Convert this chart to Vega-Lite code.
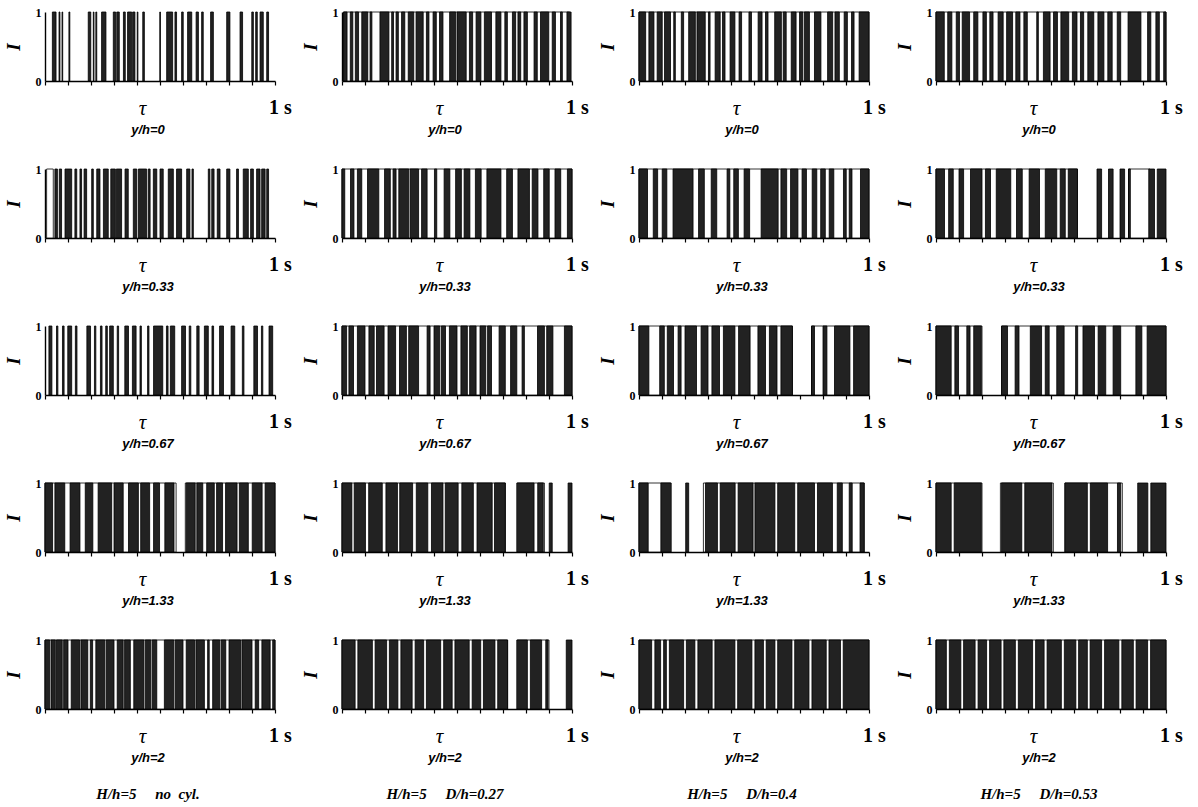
{
"$schema":"https://vega.github.io/schema/vega-lite/v6.json",
"padding":{"left":4,"top":6,"right":0,"bottom":0},
"background":"white",
"datasets":{"s":[
{"p":"11","a":0.032,"b":0.048,"k":"b"},{"p":"11","a":0.061,"b":0.065,"k":"b"},{"p":"11","a":0.074,"b":0.077,"k":"b"},{"p":"11","a":0.104,"b":0.108,"k":"b"},{"p":"11","a":0.188,"b":0.199,"k":"b"},{"p":"11","a":0.210,"b":0.213,"k":"b"},{"p":"11","a":0.221,"b":0.225,"k":"b"},{"p":"11","a":0.246,"b":0.265,"k":"b"},{"p":"11","a":0.297,"b":0.307,"k":"b"},{"p":"11","a":0.312,"b":0.323,"k":"b"},{"p":"11","a":0.341,"b":0.349,"k":"b"},{"p":"11","a":0.359,"b":0.377,"k":"b"},{"p":"11","a":0.381,"b":0.391,"k":"b"},{"p":"11","a":0.401,"b":0.404,"k":"b"},{"p":"11","a":0.425,"b":0.432,"k":"b"},{"p":"11","a":0.499,"b":0.502,"k":"b"},{"p":"11","a":0.529,"b":0.555,"k":"b"},{"p":"11","a":0.565,"b":0.572,"k":"b"},{"p":"11","a":0.594,"b":0.601,"k":"b"},{"p":"11","a":0.620,"b":0.638,"k":"b"},{"p":"11","a":0.657,"b":0.667,"k":"b"},{"p":"11","a":0.681,"b":0.688,"k":"b"},{"p":"11","a":0.720,"b":0.732,"k":"b"},{"p":"11","a":0.790,"b":0.804,"k":"b"},{"p":"11","a":0.848,"b":0.859,"k":"b"},{"p":"11","a":0.899,"b":0.906,"k":"b"},{"p":"11","a":0.916,"b":0.923,"k":"b"},{"p":"11","a":0.935,"b":0.949,"k":"b"},{"p":"11","a":0.964,"b":0.972,"k":"b"},

{"p":"12","a":0.006,"b":0.99,"k":"o"},
{"p":"12","a":0.007,"b":0.022,"k":"b"},{"p":"12","a":0.036,"b":0.047,"k":"b"},{"p":"12","a":0.058,"b":0.072,"k":"b"},{"p":"12","a":0.086,"b":0.112,"k":"b"},{"p":"12","a":0.122,"b":0.130,"k":"b"},{"p":"12","a":0.165,"b":0.204,"k":"b"},{"p":"12","a":0.216,"b":0.224,"k":"b"},{"p":"12","a":0.235,"b":0.245,"k":"b"},{"p":"12","a":0.259,"b":0.273,"k":"b"},{"p":"12","a":0.288,"b":0.312,"k":"b"},{"p":"12","a":0.322,"b":0.353,"k":"b"},{"p":"12","a":0.367,"b":0.378,"k":"b"},{"p":"12","a":0.396,"b":0.410,"k":"b"},{"p":"12","a":0.424,"b":0.439,"k":"b"},{"p":"12","a":0.468,"b":0.494,"k":"b"},{"p":"12","a":0.500,"b":0.540,"k":"b"},{"p":"12","a":0.554,"b":0.568,"k":"b"},{"p":"12","a":0.583,"b":0.604,"k":"b"},{"p":"12","a":0.619,"b":0.650,"k":"b"},{"p":"12","a":0.669,"b":0.691,"k":"b"},{"p":"12","a":0.708,"b":0.719,"k":"b"},{"p":"12","a":0.741,"b":0.755,"k":"b"},{"p":"12","a":0.765,"b":0.777,"k":"b"},{"p":"12","a":0.791,"b":0.806,"k":"b"},{"p":"12","a":0.835,"b":0.849,"k":"b"},{"p":"12","a":0.863,"b":0.899,"k":"b"},{"p":"12","a":0.914,"b":0.928,"k":"b"},{"p":"12","a":0.950,"b":0.958,"k":"b"},{"p":"12","a":0.978,"b":0.996,"k":"b"},

{"p":"13","a":0.0,"b":1.0,"k":"o"},
{"p":"13","a":0.0,"b":0.029,"k":"b"},{"p":"13","a":0.043,"b":0.065,"k":"b"},{"p":"13","a":0.079,"b":0.101,"k":"b"},{"p":"13","a":0.111,"b":0.137,"k":"b"},{"p":"13","a":0.151,"b":0.158,"k":"b"},{"p":"13","a":0.184,"b":0.194,"k":"b"},{"p":"13","a":0.216,"b":0.245,"k":"b"},{"p":"13","a":0.252,"b":0.288,"k":"b"},{"p":"13","a":0.302,"b":0.309,"k":"b"},{"p":"13","a":0.331,"b":0.353,"k":"b"},{"p":"13","a":0.363,"b":0.374,"k":"b"},{"p":"13","a":0.396,"b":0.417,"k":"b"},{"p":"13","a":0.435,"b":0.446,"k":"b"},{"p":"13","a":0.478,"b":0.489,"k":"b"},{"p":"13","a":0.518,"b":0.535,"k":"b"},{"p":"13","a":0.550,"b":0.561,"k":"b"},{"p":"13","a":0.590,"b":0.619,"k":"b"},{"p":"13","a":0.627,"b":0.640,"k":"b"},{"p":"13","a":0.662,"b":0.683,"k":"b"},{"p":"13","a":0.698,"b":0.712,"k":"b"},{"p":"13","a":0.719,"b":0.741,"k":"b"},{"p":"13","a":0.763,"b":0.791,"k":"b"},{"p":"13","a":0.820,"b":0.842,"k":"b"},{"p":"13","a":0.852,"b":0.871,"k":"b"},{"p":"13","a":0.892,"b":0.906,"k":"b"},{"p":"13","a":0.924,"b":0.935,"k":"b"},{"p":"13","a":0.957,"b":1.0,"k":"b"},

{"p":"14","a":0.0,"b":1.0,"k":"o"},
{"p":"14","a":0.0,"b":0.036,"k":"b"},{"p":"14","a":0.051,"b":0.069,"k":"b"},{"p":"14","a":0.088,"b":0.102,"k":"b"},{"p":"14","a":0.114,"b":0.146,"k":"b"},{"p":"14","a":0.164,"b":0.182,"k":"b"},{"p":"14","a":0.204,"b":0.219,"k":"b"},{"p":"14","a":0.234,"b":0.248,"k":"b"},{"p":"14","a":0.270,"b":0.292,"k":"b"},{"p":"14","a":0.307,"b":0.333,"k":"b"},{"p":"14","a":0.347,"b":0.365,"k":"b"},{"p":"14","a":0.382,"b":0.397,"k":"b"},{"p":"14","a":0.438,"b":0.445,"k":"b"},{"p":"14","a":0.467,"b":0.496,"k":"b"},{"p":"14","a":0.511,"b":0.528,"k":"b"},{"p":"14","a":0.543,"b":0.577,"k":"b"},{"p":"14","a":0.593,"b":0.613,"k":"b"},{"p":"14","a":0.628,"b":0.642,"k":"b"},{"p":"14","a":0.660,"b":0.686,"k":"b"},{"p":"14","a":0.704,"b":0.730,"k":"b"},{"p":"14","a":0.747,"b":0.766,"k":"b"},{"p":"14","a":0.788,"b":0.803,"k":"b"},{"p":"14","a":0.835,"b":0.891,"k":"b"},{"p":"14","a":0.920,"b":0.934,"k":"b"},{"p":"14","a":0.956,"b":0.971,"k":"b"},{"p":"14","a":0.990,"b":1.0,"k":"b"},

{"p":"21","a":0.007,"b":0.036,"k":"o"},
{"p":"21","a":0.043,"b":0.054,"k":"b"},{"p":"21","a":0.062,"b":0.072,"k":"b"},{"p":"21","a":0.087,"b":0.116,"k":"b"},{"p":"21","a":0.130,"b":0.138,"k":"b"},{"p":"21","a":0.152,"b":0.159,"k":"b"},{"p":"21","a":0.170,"b":0.181,"k":"b"},{"p":"21","a":0.203,"b":0.210,"k":"b"},{"p":"21","a":0.225,"b":0.239,"k":"b"},{"p":"21","a":0.254,"b":0.275,"k":"b"},{"p":"21","a":0.286,"b":0.306,"k":"b"},{"p":"21","a":0.310,"b":0.333,"k":"b"},{"p":"21","a":0.348,"b":0.362,"k":"b"},{"p":"21","a":0.384,"b":0.399,"k":"b"},{"p":"21","a":0.406,"b":0.442,"k":"b"},{"p":"21","a":0.449,"b":0.457,"k":"b"},{"p":"21","a":0.471,"b":0.486,"k":"b"},{"p":"21","a":0.500,"b":0.514,"k":"b"},{"p":"21","a":0.536,"b":0.558,"k":"b"},{"p":"21","a":0.572,"b":0.594,"k":"b"},{"p":"21","a":0.616,"b":0.630,"k":"b"},{"p":"21","a":0.639,"b":0.645,"k":"b"},{"p":"21","a":0.710,"b":0.717,"k":"b"},{"p":"21","a":0.725,"b":0.735,"k":"b"},{"p":"21","a":0.749,"b":0.761,"k":"b"},{"p":"21","a":0.790,"b":0.804,"k":"b"},{"p":"21","a":0.833,"b":0.841,"k":"b"},{"p":"21","a":0.862,"b":0.884,"k":"b"},{"p":"21","a":0.894,"b":0.906,"k":"b"},{"p":"21","a":0.920,"b":0.935,"k":"b"},{"p":"21","a":0.942,"b":0.957,"k":"b"},{"p":"21","a":0.964,"b":0.972,"k":"b"},

{"p":"22","a":0.0,"b":1.0,"k":"o"},
{"p":"22","a":0.0,"b":0.012,"k":"b"},{"p":"22","a":0.037,"b":0.052,"k":"b"},{"p":"22","a":0.067,"b":0.086,"k":"b"},{"p":"22","a":0.111,"b":0.160,"k":"b"},{"p":"22","a":0.185,"b":0.210,"k":"b"},{"p":"22","a":0.222,"b":0.235,"k":"b"},{"p":"22","a":0.247,"b":0.290,"k":"b"},{"p":"22","a":0.296,"b":0.333,"k":"b"},{"p":"22","a":0.346,"b":0.370,"k":"b"},{"p":"22","a":0.402,"b":0.412,"k":"b"},{"p":"22","a":0.444,"b":0.469,"k":"b"},{"p":"22","a":0.494,"b":0.519,"k":"b"},{"p":"22","a":0.531,"b":0.556,"k":"b"},{"p":"22","a":0.580,"b":0.605,"k":"b"},{"p":"22","a":0.630,"b":0.691,"k":"b"},{"p":"22","a":0.716,"b":0.741,"k":"b"},{"p":"22","a":0.765,"b":0.815,"k":"b"},{"p":"22","a":0.827,"b":0.852,"k":"b"},{"p":"22","a":0.877,"b":0.901,"k":"b"},{"p":"22","a":0.926,"b":0.951,"k":"b"},{"p":"22","a":0.980,"b":1.0,"k":"b"},

{"p":"23","a":0.0,"b":1.0,"k":"o"},
{"p":"23","a":0.0,"b":0.037,"k":"b"},{"p":"23","a":0.062,"b":0.081,"k":"b"},{"p":"23","a":0.101,"b":0.121,"k":"b"},{"p":"23","a":0.148,"b":0.235,"k":"b"},{"p":"23","a":0.259,"b":0.284,"k":"b"},{"p":"23","a":0.314,"b":0.338,"k":"b"},{"p":"23","a":0.383,"b":0.395,"k":"b"},{"p":"23","a":0.412,"b":0.432,"k":"b"},{"p":"23","a":0.457,"b":0.481,"k":"b"},{"p":"23","a":0.531,"b":0.605,"k":"b"},{"p":"23","a":0.617,"b":0.642,"k":"b"},{"p":"23","a":0.659,"b":0.691,"k":"b"},{"p":"23","a":0.709,"b":0.728,"k":"b"},{"p":"23","a":0.753,"b":0.773,"k":"b"},{"p":"23","a":0.790,"b":0.810,"k":"b"},{"p":"23","a":0.827,"b":0.847,"k":"b"},{"p":"23","a":0.889,"b":0.901,"k":"b"},{"p":"23","a":0.914,"b":0.926,"k":"b"},{"p":"23","a":0.963,"b":1.0,"k":"b"},

{"p":"24","a":0.0,"b":0.615,"k":"o"},{"p":"24","a":0.837,"b":0.93,"k":"o"},
{"p":"24","a":0.0,"b":0.037,"k":"b"},{"p":"24","a":0.055,"b":0.075,"k":"b"},{"p":"24","a":0.100,"b":0.120,"k":"b"},{"p":"24","a":0.150,"b":0.200,"k":"b"},{"p":"24","a":0.215,"b":0.237,"k":"b"},{"p":"24","a":0.262,"b":0.325,"k":"b"},{"p":"24","a":0.350,"b":0.375,"k":"b"},{"p":"24","a":0.405,"b":0.450,"k":"b"},{"p":"24","a":0.475,"b":0.525,"k":"b"},{"p":"24","a":0.540,"b":0.562,"k":"b"},{"p":"24","a":0.575,"b":0.615,"k":"b"},{"p":"24","a":0.700,"b":0.720,"k":"b"},{"p":"24","a":0.750,"b":0.770,"k":"b"},{"p":"24","a":0.800,"b":0.820,"k":"b"},{"p":"24","a":0.837,"b":0.845,"k":"b"},{"p":"24","a":0.925,"b":0.950,"k":"b"},{"p":"24","a":0.962,"b":1.0,"k":"b"},

{"p":"31","a":0.017,"b":0.030,"k":"b"},{"p":"31","a":0.050,"b":0.056,"k":"b"},{"p":"31","a":0.076,"b":0.083,"k":"b"},{"p":"31","a":0.099,"b":0.116,"k":"b"},{"p":"31","a":0.132,"b":0.139,"k":"b"},{"p":"31","a":0.182,"b":0.198,"k":"b"},{"p":"31","a":0.215,"b":0.221,"k":"b"},{"p":"31","a":0.241,"b":0.248,"k":"b"},{"p":"31","a":0.264,"b":0.271,"k":"b"},{"p":"31","a":0.281,"b":0.297,"k":"b"},{"p":"31","a":0.314,"b":0.320,"k":"b"},{"p":"31","a":0.347,"b":0.363,"k":"b"},{"p":"31","a":0.380,"b":0.396,"k":"b"},{"p":"31","a":0.413,"b":0.419,"k":"b"},{"p":"31","a":0.446,"b":0.452,"k":"b"},{"p":"31","a":0.472,"b":0.512,"k":"b"},{"p":"31","a":0.528,"b":0.535,"k":"b"},{"p":"31","a":0.545,"b":0.564,"k":"b"},{"p":"31","a":0.594,"b":0.611,"k":"b"},{"p":"31","a":0.627,"b":0.634,"k":"b"},{"p":"31","a":0.660,"b":0.670,"k":"b"},{"p":"31","a":0.693,"b":0.710,"k":"b"},{"p":"31","a":0.726,"b":0.733,"k":"b"},{"p":"31","a":0.759,"b":0.776,"k":"b"},{"p":"31","a":0.809,"b":0.825,"k":"b"},{"p":"31","a":0.858,"b":0.865,"k":"b"},{"p":"31","a":0.908,"b":0.924,"k":"b"},{"p":"31","a":0.941,"b":0.947,"k":"b"},{"p":"31","a":0.974,"b":0.990,"k":"b"},

{"p":"32","a":0.0,"b":1.0,"k":"o"},
{"p":"32","a":0.0,"b":0.02,"k":"b"},{"p":"32","a":0.03,"b":0.05,"k":"b"},{"p":"32","a":0.067,"b":0.1,"k":"b"},{"p":"32","a":0.117,"b":0.14,"k":"b"},{"p":"32","a":0.15,"b":0.183,"k":"b"},{"p":"32","a":0.2,"b":0.233,"k":"b"},{"p":"32","a":0.25,"b":0.28,"k":"b"},{"p":"32","a":0.29,"b":0.333,"k":"b"},{"p":"32","a":0.37,"b":0.383,"k":"b"},{"p":"32","a":0.4,"b":0.425,"k":"b"},{"p":"32","a":0.432,"b":0.45,"k":"b"},{"p":"32","a":0.467,"b":0.5,"k":"b"},{"p":"32","a":0.517,"b":0.545,"k":"b"},{"p":"32","a":0.555,"b":0.583,"k":"b"},{"p":"32","a":0.6,"b":0.625,"k":"b"},{"p":"32","a":0.633,"b":0.65,"k":"b"},{"p":"32","a":0.683,"b":0.71,"k":"b"},{"p":"32","a":0.733,"b":0.76,"k":"b"},{"p":"32","a":0.783,"b":0.793,"k":"b"},{"p":"32","a":0.85,"b":0.88,"k":"b"},{"p":"32","a":0.89,"b":0.917,"k":"b"},{"p":"32","a":0.967,"b":1.0,"k":"b"},

{"p":"33","a":0.0,"b":0.667,"k":"o"},{"p":"33","a":0.75,"b":1.0,"k":"o"},
{"p":"33","a":0.0,"b":0.043,"k":"b"},{"p":"33","a":0.09,"b":0.11,"k":"b"},{"p":"33","a":0.123,"b":0.15,"k":"b"},{"p":"33","a":0.17,"b":0.183,"k":"b"},{"p":"33","a":0.2,"b":0.25,"k":"b"},{"p":"33","a":0.27,"b":0.3,"k":"b"},{"p":"33","a":0.317,"b":0.35,"k":"b"},{"p":"33","a":0.367,"b":0.417,"k":"b"},{"p":"33","a":0.433,"b":0.483,"k":"b"},{"p":"33","a":0.517,"b":0.55,"k":"b"},{"p":"33","a":0.567,"b":0.6,"k":"b"},{"p":"33","a":0.617,"b":0.667,"k":"b"},{"p":"33","a":0.75,"b":0.763,"k":"b"},{"p":"33","a":0.8,"b":0.817,"k":"b"},{"p":"33","a":0.85,"b":0.917,"k":"b"},{"p":"33","a":0.933,"b":1.0,"k":"b"},

{"p":"34","a":0.0,"b":0.2,"k":"o"},{"p":"34","a":0.285,"b":1.0,"k":"o"},
{"p":"34","a":0.0,"b":0.066,"k":"b"},{"p":"34","a":0.082,"b":0.098,"k":"b"},{"p":"34","a":0.134,"b":0.148,"k":"b"},{"p":"34","a":0.164,"b":0.197,"k":"b"},{"p":"34","a":0.285,"b":0.311,"k":"b"},{"p":"34","a":0.344,"b":0.361,"k":"b"},{"p":"34","a":0.41,"b":0.459,"k":"b"},{"p":"34","a":0.475,"b":0.492,"k":"b"},{"p":"34","a":0.525,"b":0.557,"k":"b"},{"p":"34","a":0.607,"b":0.616,"k":"b"},{"p":"34","a":0.639,"b":0.689,"k":"b"},{"p":"34","a":0.705,"b":0.738,"k":"b"},{"p":"34","a":0.77,"b":0.803,"k":"b"},{"p":"34","a":0.869,"b":0.895,"k":"b"},{"p":"34","a":0.918,"b":1.0,"k":"b"},

{"p":"41","a":0.0,"b":0.57,"k":"o"},{"p":"41","a":0.61,"b":1.0,"k":"o"},
{"p":"41","a":0.0,"b":0.033,"k":"b"},{"p":"41","a":0.043,"b":0.086,"k":"b"},{"p":"41","a":0.109,"b":0.152,"k":"b"},{"p":"41","a":0.175,"b":0.208,"k":"b"},{"p":"41","a":0.231,"b":0.29,"k":"b"},{"p":"41","a":0.3,"b":0.34,"k":"b"},{"p":"41","a":0.363,"b":0.406,"k":"b"},{"p":"41","a":0.416,"b":0.455,"k":"b"},{"p":"41","a":0.472,"b":0.498,"k":"b"},{"p":"41","a":0.521,"b":0.561,"k":"b"},{"p":"41","a":0.614,"b":0.653,"k":"b"},{"p":"41","a":0.66,"b":0.686,"k":"b"},{"p":"41","a":0.703,"b":0.736,"k":"b"},{"p":"41","a":0.746,"b":0.772,"k":"b"},{"p":"41","a":0.785,"b":0.835,"k":"b"},{"p":"41","a":0.845,"b":0.884,"k":"b"},{"p":"41","a":0.901,"b":0.944,"k":"b"},{"p":"41","a":0.957,"b":1.0,"k":"b"},

{"p":"42","a":0.0,"b":0.71,"k":"o"},{"p":"42","a":0.76,"b":0.88,"k":"o"},
{"p":"42","a":0.0,"b":0.043,"k":"b"},{"p":"42","a":0.053,"b":0.102,"k":"b"},{"p":"42","a":0.116,"b":0.175,"k":"b"},{"p":"42","a":0.191,"b":0.241,"k":"b"},{"p":"42","a":0.251,"b":0.307,"k":"b"},{"p":"42","a":0.323,"b":0.373,"k":"b"},{"p":"42","a":0.389,"b":0.439,"k":"b"},{"p":"42","a":0.449,"b":0.505,"k":"b"},{"p":"42","a":0.521,"b":0.571,"k":"b"},{"p":"42","a":0.587,"b":0.653,"k":"b"},{"p":"42","a":0.663,"b":0.71,"k":"b"},{"p":"42","a":0.762,"b":0.835,"k":"b"},{"p":"42","a":0.851,"b":0.875,"k":"b"},{"p":"42","a":0.901,"b":0.914,"k":"b"},{"p":"42","a":0.983,"b":1.0,"k":"b"},

{"p":"43","a":0.0,"b":0.14,"k":"o"},{"p":"43","a":0.28,"b":0.98,"k":"o"},
{"p":"43","a":0.0,"b":0.04,"k":"b"},{"p":"43","a":0.095,"b":0.138,"k":"b"},{"p":"43","a":0.203,"b":0.216,"k":"b"},{"p":"43","a":0.289,"b":0.341,"k":"b"},{"p":"43","a":0.353,"b":0.418,"k":"b"},{"p":"43","a":0.431,"b":0.496,"k":"b"},{"p":"43","a":0.504,"b":0.591,"k":"b"},{"p":"43","a":0.603,"b":0.677,"k":"b"},{"p":"43","a":0.69,"b":0.763,"k":"b"},{"p":"43","a":0.776,"b":0.841,"k":"b"},{"p":"43","a":0.862,"b":0.884,"k":"b"},{"p":"43","a":0.914,"b":0.927,"k":"b"},{"p":"43","a":0.961,"b":0.978,"k":"b"},

{"p":"44","a":0.0,"b":0.2,"k":"o"},{"p":"44","a":0.28,"b":0.51,"k":"o"},{"p":"44","a":0.56,"b":0.81,"k":"o"},
{"p":"44","a":0.0,"b":0.066,"k":"b"},{"p":"44","a":0.079,"b":0.197,"k":"b"},{"p":"44","a":0.285,"b":0.373,"k":"b"},{"p":"44","a":0.386,"b":0.504,"k":"b"},{"p":"44","a":0.561,"b":0.658,"k":"b"},{"p":"44","a":0.671,"b":0.746,"k":"b"},{"p":"44","a":0.789,"b":0.803,"k":"b"},{"p":"44","a":0.877,"b":0.921,"k":"b"},{"p":"44","a":0.934,"b":1.0,"k":"b"},

{"p":"51","a":0.0,"b":1.0,"k":"o"},
{"p":"51","a":0.0,"b":0.02,"k":"b"},{"p":"51","a":0.026,"b":0.045,"k":"b"},{"p":"51","a":0.05,"b":0.075,"k":"b"},{"p":"51","a":0.081,"b":0.1,"k":"b"},{"p":"51","a":0.114,"b":0.15,"k":"b"},{"p":"51","a":0.156,"b":0.186,"k":"b"},{"p":"51","a":0.197,"b":0.207,"k":"b"},{"p":"51","a":0.221,"b":0.26,"k":"b"},{"p":"51","a":0.266,"b":0.3,"k":"b"},{"p":"51","a":0.314,"b":0.34,"k":"b"},{"p":"51","a":0.346,"b":0.371,"k":"b"},{"p":"51","a":0.386,"b":0.43,"k":"b"},{"p":"51","a":0.436,"b":0.46,"k":"b"},{"p":"51","a":0.466,"b":0.486,"k":"b"},{"p":"51","a":0.519,"b":0.56,"k":"b"},{"p":"51","a":0.566,"b":0.6,"k":"b"},{"p":"51","a":0.614,"b":0.65,"k":"b"},{"p":"51","a":0.656,"b":0.693,"k":"b"},{"p":"51","a":0.707,"b":0.714,"k":"b"},{"p":"51","a":0.729,"b":0.76,"k":"b"},{"p":"51","a":0.766,"b":0.786,"k":"b"},{"p":"51","a":0.8,"b":0.85,"k":"b"},{"p":"51","a":0.856,"b":0.9,"k":"b"},{"p":"51","a":0.914,"b":0.929,"k":"b"},{"p":"51","a":0.943,"b":0.979,"k":"b"},{"p":"51","a":0.99,"b":1.0,"k":"b"},

{"p":"52","a":0.0,"b":0.72,"k":"o"},{"p":"52","a":0.76,"b":0.9,"k":"o"},
{"p":"52","a":0.0,"b":0.057,"k":"b"},{"p":"52","a":0.069,"b":0.132,"k":"b"},{"p":"52","a":0.144,"b":0.194,"k":"b"},{"p":"52","a":0.206,"b":0.243,"k":"b"},{"p":"52","a":0.256,"b":0.305,"k":"b"},{"p":"52","a":0.318,"b":0.355,"k":"b"},{"p":"52","a":0.367,"b":0.429,"k":"b"},{"p":"52","a":0.442,"b":0.479,"k":"b"},{"p":"52","a":0.491,"b":0.553,"k":"b"},{"p":"52","a":0.566,"b":0.603,"k":"b"},{"p":"52","a":0.615,"b":0.665,"k":"b"},{"p":"52","a":0.677,"b":0.72,"k":"b"},{"p":"52","a":0.762,"b":0.806,"k":"b"},{"p":"52","a":0.819,"b":0.868,"k":"b"},{"p":"52","a":0.886,"b":0.896,"k":"b"},{"p":"52","a":0.975,"b":1.0,"k":"b"},

{"p":"53","a":0.0,"b":1.0,"k":"o"},
{"p":"53","a":0.0,"b":0.055,"k":"b"},{"p":"53","a":0.069,"b":0.094,"k":"b"},{"p":"53","a":0.107,"b":0.119,"k":"b"},{"p":"53","a":0.132,"b":0.194,"k":"b"},{"p":"53","a":0.206,"b":0.243,"k":"b"},{"p":"53","a":0.256,"b":0.318,"k":"b"},{"p":"53","a":0.33,"b":0.417,"k":"b"},{"p":"53","a":0.429,"b":0.491,"k":"b"},{"p":"53","a":0.504,"b":0.541,"k":"b"},{"p":"53","a":0.553,"b":0.591,"k":"b"},{"p":"53","a":0.603,"b":0.665,"k":"b"},{"p":"53","a":0.677,"b":0.739,"k":"b"},{"p":"53","a":0.752,"b":0.814,"k":"b"},{"p":"53","a":0.826,"b":0.876,"k":"b"},{"p":"53","a":0.888,"b":1.0,"k":"b"},

{"p":"54","a":0.0,"b":1.0,"k":"o"},
{"p":"54","a":0.0,"b":0.045,"k":"b"},{"p":"54","a":0.058,"b":0.108,"k":"b"},{"p":"54","a":0.12,"b":0.17,"k":"b"},{"p":"54","a":0.183,"b":0.22,"k":"b"},{"p":"54","a":0.233,"b":0.283,"k":"b"},{"p":"54","a":0.295,"b":0.345,"k":"b"},{"p":"54","a":0.358,"b":0.42,"k":"b"},{"p":"54","a":0.433,"b":0.47,"k":"b"},{"p":"54","a":0.483,"b":0.545,"k":"b"},{"p":"54","a":0.558,"b":0.608,"k":"b"},{"p":"54","a":0.62,"b":0.658,"k":"b"},{"p":"54","a":0.67,"b":0.72,"k":"b"},{"p":"54","a":0.733,"b":0.795,"k":"b"},{"p":"54","a":0.808,"b":0.858,"k":"b"},{"p":"54","a":0.87,"b":0.92,"k":"b"},{"p":"54","a":0.933,"b":1.0,"k":"b"}
]},
"config":{
"view":{"stroke":null},
"axis":{"grid":false,"domainColor":"black","domainWidth":1.4,"tickColor":"black","labelColor":"black","titleColor":"black"},
"axisX":{"tickSize":4,"tickWidth":1.2,"labelFont":"Liberation Serif","labelFontSize":20,"labelFontWeight":"bold","labelPadding":12,"labelOffset":5,"labelFlush":false,"labelOverlap":false,"labelBound":false,"titleFont":"Liberation Serif","titleFontSize":21,"titleFontStyle":"italic","titleFontWeight":"normal","titleX":97,"titleY":33,"titleBaseline":"alphabetic"},
"axisY":{"ticks":false,"labelFont":"Liberation Serif","labelFontSize":12,"labelFontWeight":"bold","labelPadding":4,"labelFlush":false,"titleFont":"Liberation Serif","titleFontSize":19,"titleFontStyle":"italic","titleFontWeight":"bold","titlePadding":12},
"title":{"orient":"bottom","anchor":"middle","font":"Liberation Sans","fontSize":13,"fontStyle":"italic","fontWeight":"bold","color":"black","offset":6,"dx":-12,"subtitleFont":"Liberation Serif","subtitleFontSize":15,"subtitleFontStyle":"italic","subtitleFontWeight":"bold","subtitleColor":"black","subtitlePadding":22}
},
"spacing":26,
"vconcat":[
{"spacing":9,"hconcat":[
{"width":230,"height":69,"data":{"name":"s"},"transform":[{"filter":"datum.p=='11'"}],"mark":{"type":"rect","stroke":"black","strokeWidth":0.8},"encoding":{"x":{"field":"a","type":"quantitative","scale":{"domain":[0,1]},"axis":{"values":[0,0.1,0.2,0.3,0.4,0.5,0.6,0.7,0.8,0.9,1],"labelExpr":"datum.value==1?'1 s':''","title":"τ"}},"x2":{"field":"b"},"y":{"datum":0,"type":"quantitative","scale":{"domain":[0,1]},"axis":{"values":[0,1],"format":"d","title":"I"}},"y2":{"datum":1},"fill":{"field":"k","type":"nominal","scale":{"domain":["o","b"],"range":["white","#222222"]},"legend":null}},"title":"y/h=0"},
{"width":230,"height":69,"data":{"name":"s"},"transform":[{"filter":"datum.p=='12'"}],"mark":{"type":"rect","stroke":"black","strokeWidth":0.8},"encoding":{"x":{"field":"a","type":"quantitative","scale":{"domain":[0,1]},"axis":{"values":[0,0.1,0.2,0.3,0.4,0.5,0.6,0.7,0.8,0.9,1],"labelExpr":"datum.value==1?'1 s':''","title":"τ"}},"x2":{"field":"b"},"y":{"datum":0,"type":"quantitative","scale":{"domain":[0,1]},"axis":{"values":[0,1],"format":"d","title":"I"}},"y2":{"datum":1},"fill":{"field":"k","type":"nominal","scale":{"domain":["o","b"],"range":["white","#222222"]},"legend":null}},"title":"y/h=0"},
{"width":230,"height":69,"data":{"name":"s"},"transform":[{"filter":"datum.p=='13'"}],"mark":{"type":"rect","stroke":"black","strokeWidth":0.8},"encoding":{"x":{"field":"a","type":"quantitative","scale":{"domain":[0,1]},"axis":{"values":[0,0.1,0.2,0.3,0.4,0.5,0.6,0.7,0.8,0.9,1],"labelExpr":"datum.value==1?'1 s':''","title":"τ"}},"x2":{"field":"b"},"y":{"datum":0,"type":"quantitative","scale":{"domain":[0,1]},"axis":{"values":[0,1],"format":"d","title":"I"}},"y2":{"datum":1},"fill":{"field":"k","type":"nominal","scale":{"domain":["o","b"],"range":["white","#222222"]},"legend":null}},"title":"y/h=0"},
{"width":230,"height":69,"data":{"name":"s"},"transform":[{"filter":"datum.p=='14'"}],"mark":{"type":"rect","stroke":"black","strokeWidth":0.8},"encoding":{"x":{"field":"a","type":"quantitative","scale":{"domain":[0,1]},"axis":{"values":[0,0.1,0.2,0.3,0.4,0.5,0.6,0.7,0.8,0.9,1],"labelExpr":"datum.value==1?'1 s':''","title":"τ"}},"x2":{"field":"b"},"y":{"datum":0,"type":"quantitative","scale":{"domain":[0,1]},"axis":{"values":[0,1],"format":"d","title":"I"}},"y2":{"datum":1},"fill":{"field":"k","type":"nominal","scale":{"domain":["o","b"],"range":["white","#222222"]},"legend":null}},"title":"y/h=0"}
]},
{"spacing":9,"hconcat":[
{"width":230,"height":69,"data":{"name":"s"},"transform":[{"filter":"datum.p=='21'"}],"mark":{"type":"rect","stroke":"black","strokeWidth":0.8},"encoding":{"x":{"field":"a","type":"quantitative","scale":{"domain":[0,1]},"axis":{"values":[0,0.1,0.2,0.3,0.4,0.5,0.6,0.7,0.8,0.9,1],"labelExpr":"datum.value==1?'1 s':''","title":"τ"}},"x2":{"field":"b"},"y":{"datum":0,"type":"quantitative","scale":{"domain":[0,1]},"axis":{"values":[0,1],"format":"d","title":"I"}},"y2":{"datum":1},"fill":{"field":"k","type":"nominal","scale":{"domain":["o","b"],"range":["white","#222222"]},"legend":null}},"title":"y/h=0.33"},
{"width":230,"height":69,"data":{"name":"s"},"transform":[{"filter":"datum.p=='22'"}],"mark":{"type":"rect","stroke":"black","strokeWidth":0.8},"encoding":{"x":{"field":"a","type":"quantitative","scale":{"domain":[0,1]},"axis":{"values":[0,0.1,0.2,0.3,0.4,0.5,0.6,0.7,0.8,0.9,1],"labelExpr":"datum.value==1?'1 s':''","title":"τ"}},"x2":{"field":"b"},"y":{"datum":0,"type":"quantitative","scale":{"domain":[0,1]},"axis":{"values":[0,1],"format":"d","title":"I"}},"y2":{"datum":1},"fill":{"field":"k","type":"nominal","scale":{"domain":["o","b"],"range":["white","#222222"]},"legend":null}},"title":"y/h=0.33"},
{"width":230,"height":69,"data":{"name":"s"},"transform":[{"filter":"datum.p=='23'"}],"mark":{"type":"rect","stroke":"black","strokeWidth":0.8},"encoding":{"x":{"field":"a","type":"quantitative","scale":{"domain":[0,1]},"axis":{"values":[0,0.1,0.2,0.3,0.4,0.5,0.6,0.7,0.8,0.9,1],"labelExpr":"datum.value==1?'1 s':''","title":"τ"}},"x2":{"field":"b"},"y":{"datum":0,"type":"quantitative","scale":{"domain":[0,1]},"axis":{"values":[0,1],"format":"d","title":"I"}},"y2":{"datum":1},"fill":{"field":"k","type":"nominal","scale":{"domain":["o","b"],"range":["white","#222222"]},"legend":null}},"title":"y/h=0.33"},
{"width":230,"height":69,"data":{"name":"s"},"transform":[{"filter":"datum.p=='24'"}],"mark":{"type":"rect","stroke":"black","strokeWidth":0.8},"encoding":{"x":{"field":"a","type":"quantitative","scale":{"domain":[0,1]},"axis":{"values":[0,0.1,0.2,0.3,0.4,0.5,0.6,0.7,0.8,0.9,1],"labelExpr":"datum.value==1?'1 s':''","title":"τ"}},"x2":{"field":"b"},"y":{"datum":0,"type":"quantitative","scale":{"domain":[0,1]},"axis":{"values":[0,1],"format":"d","title":"I"}},"y2":{"datum":1},"fill":{"field":"k","type":"nominal","scale":{"domain":["o","b"],"range":["white","#222222"]},"legend":null}},"title":"y/h=0.33"}
]},
{"spacing":9,"hconcat":[
{"width":230,"height":69,"data":{"name":"s"},"transform":[{"filter":"datum.p=='31'"}],"mark":{"type":"rect","stroke":"black","strokeWidth":0.8},"encoding":{"x":{"field":"a","type":"quantitative","scale":{"domain":[0,1]},"axis":{"values":[0,0.1,0.2,0.3,0.4,0.5,0.6,0.7,0.8,0.9,1],"labelExpr":"datum.value==1?'1 s':''","title":"τ"}},"x2":{"field":"b"},"y":{"datum":0,"type":"quantitative","scale":{"domain":[0,1]},"axis":{"values":[0,1],"format":"d","title":"I"}},"y2":{"datum":1},"fill":{"field":"k","type":"nominal","scale":{"domain":["o","b"],"range":["white","#222222"]},"legend":null}},"title":"y/h=0.67"},
{"width":230,"height":69,"data":{"name":"s"},"transform":[{"filter":"datum.p=='32'"}],"mark":{"type":"rect","stroke":"black","strokeWidth":0.8},"encoding":{"x":{"field":"a","type":"quantitative","scale":{"domain":[0,1]},"axis":{"values":[0,0.1,0.2,0.3,0.4,0.5,0.6,0.7,0.8,0.9,1],"labelExpr":"datum.value==1?'1 s':''","title":"τ"}},"x2":{"field":"b"},"y":{"datum":0,"type":"quantitative","scale":{"domain":[0,1]},"axis":{"values":[0,1],"format":"d","title":"I"}},"y2":{"datum":1},"fill":{"field":"k","type":"nominal","scale":{"domain":["o","b"],"range":["white","#222222"]},"legend":null}},"title":"y/h=0.67"},
{"width":230,"height":69,"data":{"name":"s"},"transform":[{"filter":"datum.p=='33'"}],"mark":{"type":"rect","stroke":"black","strokeWidth":0.8},"encoding":{"x":{"field":"a","type":"quantitative","scale":{"domain":[0,1]},"axis":{"values":[0,0.1,0.2,0.3,0.4,0.5,0.6,0.7,0.8,0.9,1],"labelExpr":"datum.value==1?'1 s':''","title":"τ"}},"x2":{"field":"b"},"y":{"datum":0,"type":"quantitative","scale":{"domain":[0,1]},"axis":{"values":[0,1],"format":"d","title":"I"}},"y2":{"datum":1},"fill":{"field":"k","type":"nominal","scale":{"domain":["o","b"],"range":["white","#222222"]},"legend":null}},"title":"y/h=0.67"},
{"width":230,"height":69,"data":{"name":"s"},"transform":[{"filter":"datum.p=='34'"}],"mark":{"type":"rect","stroke":"black","strokeWidth":0.8},"encoding":{"x":{"field":"a","type":"quantitative","scale":{"domain":[0,1]},"axis":{"values":[0,0.1,0.2,0.3,0.4,0.5,0.6,0.7,0.8,0.9,1],"labelExpr":"datum.value==1?'1 s':''","title":"τ"}},"x2":{"field":"b"},"y":{"datum":0,"type":"quantitative","scale":{"domain":[0,1]},"axis":{"values":[0,1],"format":"d","title":"I"}},"y2":{"datum":1},"fill":{"field":"k","type":"nominal","scale":{"domain":["o","b"],"range":["white","#222222"]},"legend":null}},"title":"y/h=0.67"}
]},
{"spacing":9,"hconcat":[
{"width":230,"height":69,"data":{"name":"s"},"transform":[{"filter":"datum.p=='41'"}],"mark":{"type":"rect","stroke":"black","strokeWidth":0.8},"encoding":{"x":{"field":"a","type":"quantitative","scale":{"domain":[0,1]},"axis":{"values":[0,0.1,0.2,0.3,0.4,0.5,0.6,0.7,0.8,0.9,1],"labelExpr":"datum.value==1?'1 s':''","title":"τ"}},"x2":{"field":"b"},"y":{"datum":0,"type":"quantitative","scale":{"domain":[0,1]},"axis":{"values":[0,1],"format":"d","title":"I"}},"y2":{"datum":1},"fill":{"field":"k","type":"nominal","scale":{"domain":["o","b"],"range":["white","#222222"]},"legend":null}},"title":"y/h=1.33"},
{"width":230,"height":69,"data":{"name":"s"},"transform":[{"filter":"datum.p=='42'"}],"mark":{"type":"rect","stroke":"black","strokeWidth":0.8},"encoding":{"x":{"field":"a","type":"quantitative","scale":{"domain":[0,1]},"axis":{"values":[0,0.1,0.2,0.3,0.4,0.5,0.6,0.7,0.8,0.9,1],"labelExpr":"datum.value==1?'1 s':''","title":"τ"}},"x2":{"field":"b"},"y":{"datum":0,"type":"quantitative","scale":{"domain":[0,1]},"axis":{"values":[0,1],"format":"d","title":"I"}},"y2":{"datum":1},"fill":{"field":"k","type":"nominal","scale":{"domain":["o","b"],"range":["white","#222222"]},"legend":null}},"title":"y/h=1.33"},
{"width":230,"height":69,"data":{"name":"s"},"transform":[{"filter":"datum.p=='43'"}],"mark":{"type":"rect","stroke":"black","strokeWidth":0.8},"encoding":{"x":{"field":"a","type":"quantitative","scale":{"domain":[0,1]},"axis":{"values":[0,0.1,0.2,0.3,0.4,0.5,0.6,0.7,0.8,0.9,1],"labelExpr":"datum.value==1?'1 s':''","title":"τ"}},"x2":{"field":"b"},"y":{"datum":0,"type":"quantitative","scale":{"domain":[0,1]},"axis":{"values":[0,1],"format":"d","title":"I"}},"y2":{"datum":1},"fill":{"field":"k","type":"nominal","scale":{"domain":["o","b"],"range":["white","#222222"]},"legend":null}},"title":"y/h=1.33"},
{"width":230,"height":69,"data":{"name":"s"},"transform":[{"filter":"datum.p=='44'"}],"mark":{"type":"rect","stroke":"black","strokeWidth":0.8},"encoding":{"x":{"field":"a","type":"quantitative","scale":{"domain":[0,1]},"axis":{"values":[0,0.1,0.2,0.3,0.4,0.5,0.6,0.7,0.8,0.9,1],"labelExpr":"datum.value==1?'1 s':''","title":"τ"}},"x2":{"field":"b"},"y":{"datum":0,"type":"quantitative","scale":{"domain":[0,1]},"axis":{"values":[0,1],"format":"d","title":"I"}},"y2":{"datum":1},"fill":{"field":"k","type":"nominal","scale":{"domain":["o","b"],"range":["white","#222222"]},"legend":null}},"title":"y/h=1.33"}
]},
{"spacing":9,"hconcat":[
{"width":230,"height":69,"data":{"name":"s"},"transform":[{"filter":"datum.p=='51'"}],"mark":{"type":"rect","stroke":"black","strokeWidth":0.8},"encoding":{"x":{"field":"a","type":"quantitative","scale":{"domain":[0,1]},"axis":{"values":[0,0.1,0.2,0.3,0.4,0.5,0.6,0.7,0.8,0.9,1],"labelExpr":"datum.value==1?'1 s':''","title":"τ"}},"x2":{"field":"b"},"y":{"datum":0,"type":"quantitative","scale":{"domain":[0,1]},"axis":{"values":[0,1],"format":"d","title":"I"}},"y2":{"datum":1},"fill":{"field":"k","type":"nominal","scale":{"domain":["o","b"],"range":["white","#222222"]},"legend":null}},"title":{"text":"y/h=2","subtitle":"H/h=5\u2003 no\u00a0 cyl."}},
{"width":230,"height":69,"data":{"name":"s"},"transform":[{"filter":"datum.p=='52'"}],"mark":{"type":"rect","stroke":"black","strokeWidth":0.8},"encoding":{"x":{"field":"a","type":"quantitative","scale":{"domain":[0,1]},"axis":{"values":[0,0.1,0.2,0.3,0.4,0.5,0.6,0.7,0.8,0.9,1],"labelExpr":"datum.value==1?'1 s':''","title":"τ"}},"x2":{"field":"b"},"y":{"datum":0,"type":"quantitative","scale":{"domain":[0,1]},"axis":{"values":[0,1],"format":"d","title":"I"}},"y2":{"datum":1},"fill":{"field":"k","type":"nominal","scale":{"domain":["o","b"],"range":["white","#222222"]},"legend":null}},"title":{"text":"y/h=2","subtitle":"H/h=5\u2003 D/h=0.27"}},
{"width":230,"height":69,"data":{"name":"s"},"transform":[{"filter":"datum.p=='53'"}],"mark":{"type":"rect","stroke":"black","strokeWidth":0.8},"encoding":{"x":{"field":"a","type":"quantitative","scale":{"domain":[0,1]},"axis":{"values":[0,0.1,0.2,0.3,0.4,0.5,0.6,0.7,0.8,0.9,1],"labelExpr":"datum.value==1?'1 s':''","title":"τ"}},"x2":{"field":"b"},"y":{"datum":0,"type":"quantitative","scale":{"domain":[0,1]},"axis":{"values":[0,1],"format":"d","title":"I"}},"y2":{"datum":1},"fill":{"field":"k","type":"nominal","scale":{"domain":["o","b"],"range":["white","#222222"]},"legend":null}},"title":{"text":"y/h=2","subtitle":"H/h=5\u2003 D/h=0.4"}},
{"width":230,"height":69,"data":{"name":"s"},"transform":[{"filter":"datum.p=='54'"}],"mark":{"type":"rect","stroke":"black","strokeWidth":0.8},"encoding":{"x":{"field":"a","type":"quantitative","scale":{"domain":[0,1]},"axis":{"values":[0,0.1,0.2,0.3,0.4,0.5,0.6,0.7,0.8,0.9,1],"labelExpr":"datum.value==1?'1 s':''","title":"τ"}},"x2":{"field":"b"},"y":{"datum":0,"type":"quantitative","scale":{"domain":[0,1]},"axis":{"values":[0,1],"format":"d","title":"I"}},"y2":{"datum":1},"fill":{"field":"k","type":"nominal","scale":{"domain":["o","b"],"range":["white","#222222"]},"legend":null}},"title":{"text":"y/h=2","subtitle":"H/h=5\u2003 D/h=0.53"}}
]}
]
}
